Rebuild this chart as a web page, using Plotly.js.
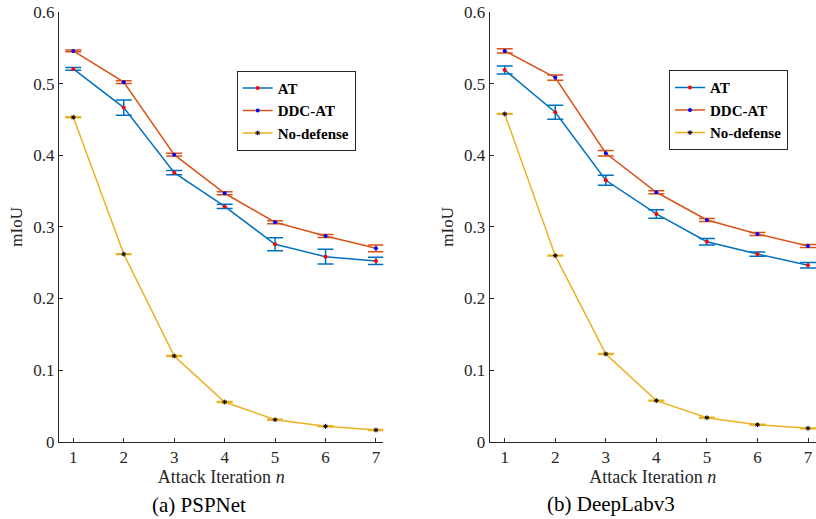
<!DOCTYPE html>
<html>
<head>
<meta charset="utf-8">
<script src="https://cdn.plot.ly/plotly-3.0.1.min.js"></script>
<style>html,body{margin:0;padding:0;background:#fff;}#chart{width:816px;height:519px;}</style>
</head>
<body>
<div id="chart"></div>
<script>
const iterations = [1, 2, 3, 4, 5, 6, 7];
const seriesNames = ['AT', 'DDC-AT', 'No-defense'];

// (a) PSPNet
const pspAT = [0.5205, 0.4665, 0.3757, 0.3285, 0.2757, 0.2584, 0.2524];
const pspATerr = [0.002, 0.0105, 0.003, 0.003, 0.009, 0.0103, 0.005];
const pspDDC = [0.5457, 0.502, 0.4008, 0.3469, 0.3064, 0.2873, 0.2700];
const pspDDCerr = [0.0012, 0.002, 0.002, 0.002, 0.002, 0.002, 0.0047];
const pspNo = [0.4530, 0.2620, 0.1197, 0.0554, 0.0307, 0.0215, 0.0163];
const pspNoerr = [0.0006, 0.0006, 0.0006, 0.0006, 0.0006, 0.0006, 0.0006];

// (b) DeepLabv3
const dlAT = [0.5191, 0.4600, 0.3650, 0.3180, 0.2793, 0.2620, 0.2464];
const dlATerr = [0.0056, 0.0098, 0.007, 0.006, 0.0046, 0.003, 0.0037];
const dlDDC = [0.5457, 0.5084, 0.4028, 0.3483, 0.3096, 0.2900, 0.2733];
const dlDDCerr = [0.003, 0.0037, 0.0037, 0.002, 0.002, 0.002, 0.002];
const dlNo = [0.4577, 0.2598, 0.1225, 0.0573, 0.0335, 0.0237, 0.0187];
const dlNoerr = [0.0006, 0.0006, 0.0006, 0.0006, 0.0006, 0.0006, 0.0006];

const yTicks = [0, 0.1, 0.2, 0.3, 0.4, 0.5, 0.6];
const yTickText = ['0', '0.1', '0.2', '0.3', '0.4', '0.5', '0.6'];
const captions = ['(a) PSPNet', '(b) DeepLabv3'];

const colors = ['#0072BD', '#D95319', '#EDB120'];
const markerColors = ['#ff0000', '#0000ff', '#000000'];
const markerSymbols = ['circle', 'circle', 'asterisk-open'];

function mk(y, err, i, xa, ya, lg) {
  return {
    x: iterations, y: y, type: 'scatter', mode: 'lines+markers',
    name: seriesNames[i], xaxis: xa, yaxis: ya, legend: lg,
    line: {color: colors[i], width: 1.5},
    marker: markerSymbols[i] === 'asterisk-open'
      ? {symbol: 'asterisk-open', size: 4, color: '#000', line: {color: '#000', width: 1}}
      : {symbol: 'circle', size: 4, color: markerColors[i]},
    error_y: {type: 'data', array: err, visible: true, color: colors[i], thickness: 1.5, width: 8}
  };
}

const data = [
  mk(pspAT, pspATerr, 0, 'x', 'y', 'legend'),
  mk(pspDDC, pspDDCerr, 1, 'x', 'y', 'legend'),
  mk(pspNo, pspNoerr, 2, 'x', 'y', 'legend'),
  mk(dlAT, dlATerr, 0, 'x2', 'y2', 'legend2'),
  mk(dlDDC, dlDDCerr, 1, 'x2', 'y2', 'legend2'),
  mk(dlNo, dlNoerr, 2, 'x2', 'y2', 'legend2')
];

const serif = '"Liberation Serif", "Times New Roman", serif';
const tickFont = {family: serif, size: 17, color: '#262626'};
const titleFont = {family: serif, size: 18, color: '#262626'};

function xaxis(domain, range, anchor) {
  return {
    domain: domain, range: range, anchor: anchor,
    tickvals: iterations, ticktext: iterations.map(String),
    ticks: 'inside', ticklen: 4, tickcolor: '#262626', tickwidth: 1,
    showline: true, linecolor: '#262626', linewidth: 1,
    showgrid: false, zeroline: false, tickfont: tickFont,
    title: {text: 'Attack Iteration <i>n</i>', font: titleFont, standoff: 4},
    automargin: false
  };
}
function yaxis(domain, anchor) {
  return {
    domain: domain, range: [0, 0.6], anchor: anchor,
    tickvals: yTicks, ticktext: yTickText,
    ticks: 'inside', ticklen: 4, tickcolor: '#262626', tickwidth: 1,
    showline: true, linecolor: '#262626', linewidth: 1,
    showgrid: false, zeroline: false, tickfont: tickFont,
    title: {text: 'mIoU', font: {family: serif, size: 17, color: '#262626'}, standoff: 6},
    automargin: false
  };
}

const legendStyle = {
  bgcolor: '#ffffff', bordercolor: '#262626', borderwidth: 1,
  font: {family: serif, size: 15, color: '#000', weight: 'bold'},
  xanchor: 'left', yanchor: 'top', itemwidth: 30, tracegroupgap: 0
};

const layout = {
  width: 816, height: 519,
  margin: {l: 0, r: 0, t: 0, b: 0, pad: 0},
  paper_bgcolor: '#ffffff', plot_bgcolor: '#ffffff',
  showlegend: true,
  xaxis: xaxis([59/816, 383.3/816], [0.7166, 7.145], 'y'),
  yaxis: yaxis([1 - 441.7/519, 1 - 12/519], 'x'),
  xaxis2: xaxis([489.7/816, 1], [0.703, 7.158], 'y2'),
  yaxis2: yaxis([1 - 441.7/519, 1 - 12/519], 'x2'),
  legend: Object.assign({x: 236.7/816, y: 1 - 70.7/519}, legendStyle),
  legend2: Object.assign({x: 669/816, y: 1 - 70.3/519}, legendStyle),
  annotations: [
    {text: captions[0], xref: 'paper', yref: 'paper', x: 199/816, y: 1 - 505/519,
     xanchor: 'center', yanchor: 'middle', showarrow: false, font: {family: serif, size: 21, color: '#000'}},
    {text: captions[1], xref: 'paper', yref: 'paper', x: 610.5/816, y: 1 - 504/519,
     xanchor: 'center', yanchor: 'middle', showarrow: false, font: {family: serif, size: 21, color: '#000'}}
  ]
};

Plotly.newPlot('chart', data, layout, {displayModeBar: false, staticPlot: true});
</script>
</body>
</html>
